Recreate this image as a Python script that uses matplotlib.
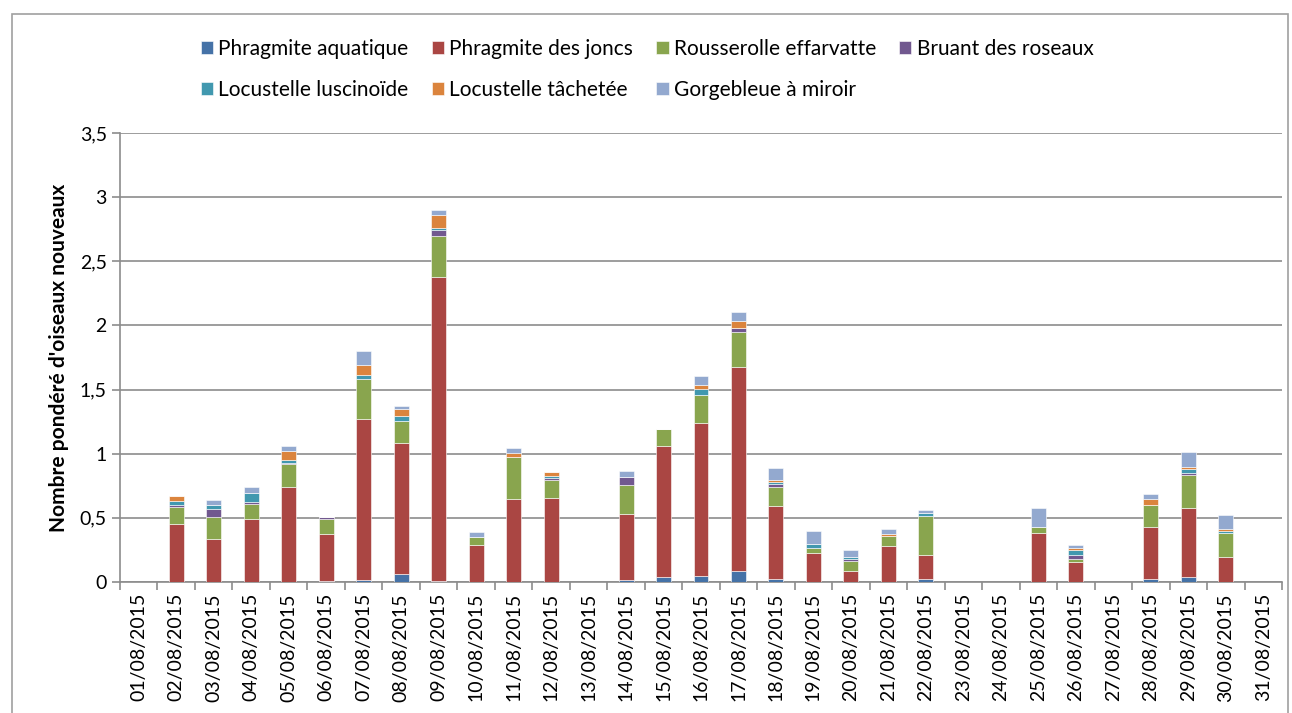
import matplotlib
matplotlib.use("Agg")
import matplotlib.pyplot as plt
from matplotlib.patches import Rectangle
from matplotlib.ticker import FuncFormatter, FixedLocator

plt.rcParams['font.family'] = ['Lato', 'DejaVu Sans']

# dates (août 2015)
dates = ["%02d/08/2015" % d for d in range(1, 32)]

# valeurs par espèce (lecture du graphique)
aquatique = [0, 0, 0, 0, 0, 0.01, 0.015, 0.062, 0.01, 0, 0, 0, 0, 0.015, 0.037,
             0.049, 0.086, 0.021, 0, 0, 0, 0.023, 0, 0, 0, 0, 0, 0.021, 0.041, 0, 0]
joncs = [0, 0.45, 0.333, 0.493, 0.743, 0.367, 1.253, 1.019, 2.37, 0.286, 0.647, 0.657, 0, 0.517, 1.021,
         1.188, 1.59, 0.574, 0.226, 0.088, 0.283, 0.187, 0, 0, 0.38, 0.158, 0, 0.405, 0.533, 0.197, 0]
rousserolle = [0, 0.137, 0.174, 0.117, 0.174, 0.111, 0.312, 0.176, 0.319, 0.065, 0.327, 0.136, 0, 0.224, 0.137,
               0.223, 0.273, 0.145, 0.037, 0.078, 0.076, 0.304, 0, 0, 0.046, 0.019, 0, 0.172, 0.262, 0.183, 0]
bruant = [0, 0.013, 0.064, 0.014, 0.013, 0.016, 0, 0, 0.047, 0, 0, 0.02, 0, 0.065, 0,
          0, 0.033, 0.021, 0, 0.011, 0, 0, 0, 0, 0, 0.036, 0, 0, 0.016, 0, 0]
luscinoide = [0, 0.034, 0.032, 0.067, 0.021, 0, 0.036, 0.039, 0.015, 0, 0, 0.013, 0, 0, 0,
              0.047, 0, 0.016, 0.033, 0.02, 0, 0.024, 0, 0, 0, 0.039, 0, 0, 0.026, 0.017, 0]
tachetee = [0, 0.034, 0, 0, 0.07, 0, 0.073, 0.055, 0.099, 0, 0.034, 0.029, 0, 0, 0,
            0.028, 0.05, 0.016, 0, 0, 0.017, 0, 0, 0, 0, 0.015, 0, 0.051, 0.016, 0.018, 0]
gorgebleue = [0, 0, 0.034, 0.052, 0.037, 0, 0.109, 0.021, 0.039, 0.039, 0.036, 0, 0, 0.047, 0,
              0.071, 0.07, 0.093, 0.104, 0.055, 0.037, 0.026, 0, 0, 0.148, 0.024, 0, 0.037, 0.119, 0.107, 0]

series = [
    ("Phragmite aquatique", aquatique, "#4572A7"),
    ("Phragmite des joncs", joncs, "#AA4643"),
    ("Rousserolle effarvatte", rousserolle, "#89A54E"),
    ("Bruant des roseaux", bruant, "#71588F"),
    ("Locustelle luscinoïde", luscinoide, "#4198AF"),
    ("Locustelle tâchetée", tachetee, "#DB843D"),
    ("Gorgebleue à miroir", gorgebleue, "#93A9CF"),
]

fig = plt.figure(figsize=(12.92, 7.13), dpi=100)
ax = fig.add_axes([120 / 1292, 1 - 582 / 713, 1162 / 1292, 449 / 713])

# cadre extérieur
fig.patches.append(Rectangle((12 / 1292, -0.05), 1276 / 1292, 1.05 - 14 / 713,
                             transform=fig.transFigure, fill=False,
                             edgecolor="#A0A0A0", linewidth=1.2))

x = list(range(len(dates)))
bottom = [0.0] * len(dates)
for name, vals, col in series:
    ax.bar(x, vals, width=0.4, bottom=bottom, color=col, label=name,
           edgecolor="white", linewidth=0.4, zorder=3)
    bottom = [b + v for b, v in zip(bottom, vals)]

ax.set_xlim(-0.5, len(dates) - 0.5)
ax.set_ylim(0, 3.5)
ax.set_yticks([i * 0.5 for i in range(8)])
ax.yaxis.set_major_formatter(FuncFormatter(lambda v, p: ("%g" % v).replace(".", ",")))
ax.grid(axis="y", color="#8C8C8C", linewidth=1.2, zorder=0)

ax.xaxis.set_major_locator(FixedLocator([i - 0.5 for i in range(len(dates) + 1)]))
ax.xaxis.set_minor_locator(FixedLocator(x))
ax.set_xticklabels([], minor=False)
ax.set_xticklabels(dates, minor=True, rotation=90, fontsize=14)
ax.tick_params(axis="x", which="major", length=6, width=1.2, color="#8C8C8C")
ax.tick_params(axis="x", which="minor", length=0, pad=8)
ax.tick_params(axis="y", length=6, width=1.2, color="#8C8C8C", labelsize=14)

for s in ["top", "right"]:
    ax.spines[s].set_visible(False)
for s in ["left", "bottom"]:
    ax.spines[s].set_color("#8C8C8C")
    ax.spines[s].set_linewidth(1.2)

ax.set_ylabel("Nombre pondéré d'oiseaux nouveaux", fontsize=15, fontweight="bold", labelpad=8)

# légende remplie ligne par ligne
handles, labels = ax.get_legend_handles_labels()
order = [0, 4, 1, 5, 2, 6, 3]
fig.legend([handles[i] for i in order], [labels[i] for i in order],
           loc="upper left", bbox_to_anchor=(182 / 1292, 1 - 20 / 713), ncol=4, frameon=False,
           fontsize=15, handlelength=0.6, handleheight=0.6, handletextpad=0.25,
           columnspacing=1.1, labelspacing=1.0)

fig.savefig("out.png", dpi=100)
